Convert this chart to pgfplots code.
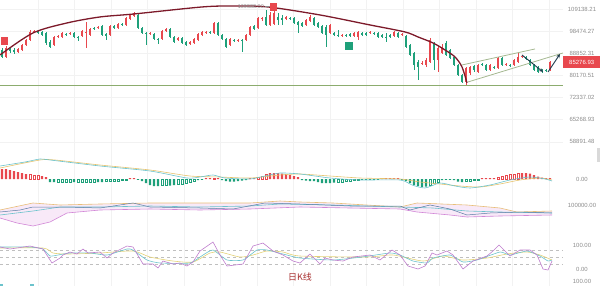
\documentclass[border=0pt]{standalone}
\usepackage{fontspec}
\setmainfont{Liberation Sans}
\newfontfamily\cjk{Noto Sans CJK SC}
\usepackage{pgfplots}
\usepackage{pgfplotstable}
\pgfplotsset{compat=1.18}
\usetikzlibrary{arrows.meta}

\definecolor{upc}{RGB}{232,72,78}
\definecolor{dnc}{RGB}{30,160,122}
\definecolor{arcc}{RGB}{125,26,42}
\definecolor{lvl}{RGB}{140,172,110}
\definecolor{chan}{RGB}{165,184,145}
\definecolor{arr}{RGB}{28,58,75}
\definecolor{lab}{RGB}{140,140,140}
\definecolor{gridc}{RGB}{242,242,242}
\definecolor{jc}{RGB}{190,125,205}
\definecolor{kc}{RGB}{108,195,204}
\definecolor{dc}{RGB}{228,210,120}
\definecolor{deac}{RGB}{230,195,110}
\definecolor{bollup}{RGB}{232,190,120}
\definecolor{bolllo}{RGB}{210,135,215}
\definecolor{bollfill}{RGB}{248,233,248}
\definecolor{pricec}{RGB}{90,125,165}
\definecolor{kline}{RGB}{168,48,48}

\pgfplotstableread{
i o h l c u
0 90216 91057 86926 87330 0
1 87330 91907 86926 91057 1
2 90636 91481 88968 89798 0
3 90216 91057 88555 89382 0
4 89382 91057 88968 90636 1
5 90216 92765 89798 92335 1
6 92335 94944 91907 94504 1
7 94504 98996 94066 98081 1
8 98081 98996 97626 98537 1
9 98537 98996 97174 97626 0
10 98081 98537 96276 96724 0
11 97626 98081 92335 93196 0
12 93630 94504 91057 91481 0
13 92335 96276 91907 95830 1
14 95830 96724 95386 96276 1
15 95830 98081 95386 97626 1
16 97174 97626 96276 96724 0
17 97174 98081 96724 97626 1
18 97626 98081 95386 95830 0
19 95830 96276 94066 95386 0
20 96276 98996 95830 98537 1
21 97626 102744 91057 98081 1
22 96724 99920 96276 99457 1
23 99920 100385 98996 99457 0
24 99920 100852 99457 100385 1
25 100852 101321 96276 96724 0
26 97174 97626 94504 96276 0
27 96724 101321 96276 100852 1
28 100852 101321 99457 99920 0
29 99920 102268 99457 101794 1
30 101794 102268 100852 101321 0
31 101321 105157 100852 104670 1
32 104185 106633 103703 106139 1
33 105647 107628 105157 107129 1
34 106139 107129 99457 99920 0
35 99920 100385 97174 97626 0
36 97626 98081 92335 97174 0
37 97174 98081 96724 97626 1
38 97174 97626 94504 94944 0
39 94944 95386 92765 94504 0
40 94944 98996 94504 98537 1
41 98537 99920 98081 99457 1
42 99457 99920 95386 95830 0
43 95830 96276 93196 93630 0
44 94504 95830 94066 95386 1
45 95386 95830 92765 93196 0
46 93630 94066 91907 92335 0
47 92765 94066 92335 93630 1
48 93196 95386 92765 94944 1
49 94504 97626 94066 97174 1
50 96724 98537 96276 98081 1
51 97626 98537 97174 98081 1
52 98081 98537 97174 97626 0
53 97626 102744 97174 102268 1
54 102268 102744 96276 96724 0
55 96724 97174 94504 94944 0
56 94944 95386 91057 91481 0
57 92335 95386 91907 94944 1
58 94504 94944 93630 94066 0
59 94066 94944 93630 94504 1
60 94504 94944 89382 94066 0
61 94504 97174 94066 96724 1
62 96724 100852 96276 100385 1
63 100852 101321 98996 99457 0
64 99920 105157 99457 104670 1
65 104185 105157 103222 104670 1
66 105157 108632 100852 101321 0
67 101321 107628 100852 106139 1
68 101794 109588 101321 107129 1
69 105157 107129 101321 103703 0
70 104670 106139 101321 103703 0
71 104185 105647 103703 105157 1
72 104670 105157 103703 104185 0
73 104670 105157 101794 102268 0
74 102744 103222 97626 101321 0
75 102268 102744 100385 100852 0
76 101321 104185 100852 103703 1
77 103222 106139 102744 105157 1
78 104670 105157 100852 101321 0
79 102268 102744 99920 100385 0
80 100852 101321 97174 97626 0
81 100385 101321 91481 96724 0
82 97626 101794 97174 101321 1
83 97626 98081 96276 96724 0
84 96724 98996 95830 96276 0
85 96276 97174 95830 96724 1
86 96724 97174 95830 96276 0
87 97174 97626 95830 96276 0
88 96276 98081 95830 97626 1
89 95830 98537 94504 98081 1
90 97626 98081 96276 96724 0
91 97626 98081 96276 96724 0
92 97626 98537 97174 98081 1
93 97626 98081 96724 97174 0
94 97626 98081 95386 95830 0
95 96724 97174 95386 95830 0
96 95830 97626 93630 95386 0
97 96724 97174 95386 95830 0
98 96276 98537 95830 98081 1
99 97626 98081 95386 95830 0
100 96724 97626 96276 97174 1
101 96276 96724 91057 91481 0
102 92335 92765 87737 88145 0
103 88968 89382 82214 84145 0
104 85326 86122 78483 83367 0
105 84537 85723 84145 84930 1
106 84145 86926 83367 86122 1
107 85326 95386 84930 94504 1
108 93196 93630 82214 86122 0
109 86122 91907 81454 91057 1
110 88968 92765 88555 91057 1
111 93196 94066 87737 88145 0
112 90216 90636 86523 86926 0
113 87330 87737 83755 84145 0
114 84145 84537 79955 80327 0
115 80327 80701 77397 77758 0
116 77758 83367 76682 82981 1
117 81076 83755 80327 83367 1
118 83755 84145 81454 82214 0
119 81454 84537 81076 84145 1
120 84537 84930 83755 84145 0
121 84145 84537 81833 82214 0
122 82214 84537 81833 84145 1
123 83367 83755 82596 82981 0
124 82981 87330 82596 86926 1
125 86926 87330 83755 84145 0
126 84145 84930 83755 84537 1
127 84145 84537 83367 83755 0
128 84145 86523 83755 86122 1
129 85326 88968 84930 87330 1
130 87330 88145 86926 87737 1
131 87330 87737 86122 86523 0
132 86122 86523 83755 84145 0
133 84145 84537 81833 82214 0
134 83367 83755 81076 81454 0
135 82214 82596 81076 81833 0
136 82214 82596 81454 81833 0
137 82214 85723 81833 85277 1
}\candles

\pgfplotsset{panel/.style={
  scale only axis, width=563bp, xmin=-0.5, xmax=140.25,
  axis line style={draw=none}, major tick length=0pt,
  scaled y ticks=false,
  xtick={9,18.125,27.25,36.375,45.5,54.625,63.75,72.875,82,91.125,100.25,109.375,118.5,127.625,136.75},
  xticklabels={}, xmajorgrids, grid style={gridc, line width=0.5bp},
  yticklabel pos=right,
  yticklabel style={anchor=center, xshift=19bp, font=\fontsize{6}{7}\selectfont, text=lab},
  anchor=north west}}

\begin{document}
\begin{tikzpicture}[x=1bp,y=1bp]
\useasboundingbox (0bp,0bp) rectangle (600bp,-286bp);

% ---------------- main price panel ----------------
\begin{axis}[panel, at={(0bp,0bp)}, height=148bp, ymode=log, ymin=57222, ymax=113796,
  ytick={58891.48,65268.93,72337.02,80170.51,88852.31,98474.27,109138.21},
  yticklabels={58891.48,65268.93,72337.02,80170.51,88852.31,98474.27,109138.21},
  ymajorgrids]
\pgfplotsinvokeforeach{0,...,137}{%
  \pgfplotstablegetelem{#1}{o}\of\candles\edef\co{\pgfplotsretval}%
  \pgfplotstablegetelem{#1}{h}\of\candles\edef\ch{\pgfplotsretval}%
  \pgfplotstablegetelem{#1}{l}\of\candles\edef\cl{\pgfplotsretval}%
  \pgfplotstablegetelem{#1}{c}\of\candles\edef\cc{\pgfplotsretval}%
  \pgfplotstablegetelem{#1}{u}\of\candles\edef\cu{\pgfplotsretval}%
  \ifnum\cu=1 \def\ccol{upc}\else\def\ccol{dnc}\fi
  \edef\tmp{\noexpand\addplot[\ccol, line width=0.6bp, forget plot] coordinates {(#1,\cl) (#1,\ch)};%
    \noexpand\addplot[\ccol, line width=2.9bp, forget plot] coordinates {(#1,\co) (#1,\cc)};}%
  \tmp
}
% support level
\addplot[lvl, line width=0.9bp] coordinates {(-0.5,76682) (140.25,76682)};
% channel
\addplot[chan, line width=0.8bp] coordinates {(115,84145) (133.25,90636)};
\addplot[chan, line width=0.8bp] coordinates {(116.5,77758) (140.25,88968)};
% arc
\addplot[arcc, line width=1.3bp, smooth, tension=0.5] coordinates {
(-0.5,88145) (7.75,97626) (16.25,102268) (24.5,105157) (33,106633) (50,110156)
(58,110669) (66.5,110156) (79.5,106139) (92,101321) (100.75,98081) (104,95830)
(107.75,93196) (110.75,90216) (113.25,87330) (115,83367) (116.25,77397)};
% arrows
\addplot[arr, line width=0.9bp, -{Stealth[length=4bp,width=3.5bp]}] coordinates {(130,88145) (135.25,81454)};
\addplot[arr, line width=0.9bp, -{Stealth[length=4bp,width=3.5bp]}] coordinates {(136.5,81454) (139.5,88555)};
% signal markers
\addplot[only marks, mark=square*, mark size=3.3bp, mark options={fill=upc, draw=upc}] coordinates {(0.5,94066) (67.75,110412)};
\addplot[only marks, mark=square*, mark size=3.3bp, mark options={fill=dnc, draw=dnc}] coordinates {(86.6,92120)};
\end{axis}
\node[anchor=east, text=lab, font=\fontsize{5.5}{6}\selectfont, inner sep=0pt] at (264bp,-6.5bp) {109588.00};
\draw[lab, line width=0.4bp] (264.5bp,-6.5bp) -- (269bp,-6.5bp);
\node[fill=upc, text=white, font=\fontsize{6}{7}\selectfont, anchor=west, minimum width=37bp, minimum height=11.5bp, inner sep=0pt] at (563bp,-62bp) {85276.93};
\fill[black!15] (597bp,-148bp) rectangle (600bp,-162bp);

% ---------------- MACD panel ----------------
\begin{axis}[panel, at={(0bp,-148bp)}, height=44bp, ymin=-1300, ymax=3100,
  ytick={0}, yticklabels={0.00}]
\addplot[ybar, bar width=2.4bp, bar shift=0pt, fill=upc, draw=none] coordinates {
(0,1000)(1,1000)(2,900)(3,800)(4,700)(5,600)(6,500)(10,300)(11,200)(32,80)(33,80)(51,80)(52,100)(54,80)(62,80)(63,100)(67,600)(68,600)(69,600)(70,550)(71,500)(72,400)(73,300)(74,200)(95,80)(96,80)(97,80)(98,80)(99,80)(120,80)(121,80)(122,80)(123,80)(130,600)(131,600)(132,550)(133,400)(134,250)(135,150)(136,100)(137,80)};
\addplot[ybar, bar width=2.4bp, bar shift=0pt, fill=white, draw=upc, line width=0.5bp] coordinates {
(7,500)(8,400)(9,400)(53,100)(64,200)(65,300)(66,500)(124,150)(125,250)(126,350)(127,450)(128,500)(129,600)};
\addplot[ybar, bar width=2.4bp, bar shift=0pt, fill=dnc, draw=none] coordinates {
(12,-300)(13,-300)(18,-300)(24,-300)(25,-300)(34,-80)(35,-200)(36,-400)(37,-600)(38,-700)(39,-700)(42,-650)(43,-600)(49,-100)(50,-80)(55,-100)(56,-200)(57,-250)(58,-250)(59,-200)(60,-150)(61,-100)(75,-100)(76,-150)(77,-200)(78,-200)(79,-300)(80,-400)(81,-400)(82,-400)(83,-350)(90,-80)(91,-80)(92,-80)(93,-80)(94,-80)(100,-80)(101,-200)(102,-400)(103,-600)(104,-700)(105,-800)(106,-750)(110,-100)(111,-80)(112,-80)(113,-100)(114,-250)(115,-300)};
\addplot[ybar, bar width=2.4bp, bar shift=0pt, fill=white, draw=dnc, line width=0.5bp] coordinates {
(14,-300)(15,-300)(16,-300)(17,-300)(19,-300)(20,-300)(21,-300)(22,-300)(23,-300)(26,-200)(27,-200)(28,-200)(29,-200)(30,-150)(31,-100)(40,-600)(41,-600)(44,-550)(45,-500)(46,-400)(47,-300)(48,-200)(84,-350)(85,-300)(86,-250)(87,-200)(88,-150)(89,-100)(107,-600)(108,-450)(109,-300)(116,-250)(117,-200)(118,-100)(119,-80)};
\addplot[deac, line width=0.6bp, smooth, tension=0.4] coordinates {
(-0.5,1100)(9.5,1900)(13.25,1900)(24.5,1400)(37,900)(47,300)(54.5,200)(62,100)(69.5,400)(74.5,500)(82,300)(89.5,100)(99.5,0)(104.5,-300)(109.5,-500)(114.5,-700)(119.5,-800)(124.5,-500)(129.5,-100)(134.5,100)(137.5,-100)};
\addplot[kc, line width=0.6bp, smooth, tension=0.4] coordinates {
(-0.5,1300)(5.75,1700)(9.5,2000)(12,1900)(24.5,1300)(37,800)(46.25,100)(49.5,200)(52.75,400)(55.75,100)(62,0)(65.75,300)(69.5,600)(74.5,500)(82,100)(89.5,-100)(99.5,-100)(102.5,-600)(105.75,-900)(109.5,-400)(113.25,-700)(117,-900)(122,-600)(127,-100)(132,200)(135.75,0)(137.5,-200)};
\end{axis}

% ---------------- band panel ----------------
\begin{axis}[panel, at={(0bp,-192bp)}, height=40bp, ymin=46000, ymax=126000,
  ytick={100000}, yticklabels={100000.00}]
\addplot[fill=bollfill, draw=none] coordinates {
(-0.5,90000)(7.75,104000)(14.5,100000)(24.5,102000)(37,104000)(49.5,104000)(62,104000)(69.5,108000)(74.5,106000)(82.75,104000)(99.5,96000)(103.75,104000)(116.25,100000)(124.5,94000)(128.75,86000)(137.5,88000)
(137.5,80000)(124.5,78000)(116.25,76000)(112,80000)(103.75,86000)(99.5,92000)(87,94000)(74.5,96000)(62,92000)(49.5,90000)(37,92000)(24.5,90000)(16.25,84000)(12,66000)(7.75,58000)(3.75,64000)(-0.5,74000)};
\addplot[bollup, line width=0.6bp] coordinates {
(-0.5,90000)(7.75,104000)(14.5,100000)(24.5,102000)(37,104000)(49.5,104000)(62,104000)(69.5,108000)(74.5,106000)(82.75,104000)(99.5,96000)(103.75,104000)(116.25,100000)(124.5,94000)(128.75,86000)(137.5,88000)};
\addplot[bolllo, line width=0.6bp] coordinates {
(-0.5,74000)(3.75,64000)(7.75,58000)(12,66000)(16.25,84000)(24.5,90000)(37,92000)(49.5,90000)(62,92000)(74.5,96000)(87,94000)(99.5,92000)(103.75,86000)(112,80000)(116.25,76000)(124.5,78000)(137.5,80000)};
\addplot[kc, line width=0.6bp] coordinates {
(-0.5,80000)(7.75,88000)(14.5,96000)(24.5,96000)(37,98000)(49.5,96000)(62,98000)(69.5,102000)(82.75,100000)(99.5,96000)(107.75,94000)(116.25,88000)(124.5,86000)(137.5,84000)};
\addplot[pricec, line width=0.5bp] coordinates {
(-0.5,86000)(4.5,90000)(7.75,96000)(16.25,96000)(24.5,94000)(32.75,104000)(37,96000)(49.5,94000)(57.75,92000)(65.75,104000)(74.5,102000)(87,98000)(99.5,98000)(102,90000)(107,100000)(112,92000)(116.25,80000)(122,84000)(129.5,86000)(137.5,84000)};
\end{axis}

% ---------------- KDJ panel ----------------
\begin{axis}[panel, at={(0bp,-232bp)}, height=54bp, ymin=-70.8, ymax=154.2,
  ytick={-50,0,100}, yticklabels={100.00,0.00,100.00}]
\addplot[black!25, dashed, line width=0.5bp] coordinates {(-0.5,80) (140.25,80)};
\addplot[black!25, dashed, line width=0.5bp] coordinates {(-0.5,50) (140.25,50)};
\addplot[black!25, dashed, line width=0.5bp] coordinates {(-0.5,20) (140.25,20)};
\addplot[dc, line width=0.6bp, smooth, tension=0.4] coordinates {
(-0.5,87.5)(10.25,87.5)(12.75,66.7)(16.25,62.5)(24.5,66.7)(32.75,75)(37,50)(42.75,33.3)(47.75,29.2)(52,66.7)(54.5,70.8)(59.5,50)(62.75,58.3)(66.25,75)(70.25,70.8)(74.5,54.2)(91.25,50)(97.75,58.3)(105.25,33.3)(110.25,54.2)(115.25,37.5)(121.25,45.8)(126.25,62.5)(131.25,70.8)(134.5,58.3)(137.5,37.5)};
\addplot[kc, line width=0.6bp, smooth, tension=0.3] coordinates {
(-0.5,91.7)(7,91.7)(10.25,83.3)(12,54.2)(14,58.3)(17,66.7)(22,66.7)(26.25,58.3)(31.25,83.3)(32.75,79.2)(36.25,37.5)(39.5,25)(47,25)(50.25,58.3)(52.75,79.2)(56.25,37.5)(60.25,37.5)(63.75,79.2)(66.25,79.2)(70.25,62.5)(74.5,45.8)(82.75,37.5)(90,50)(97,66.7)(99.5,58.3)(102.75,33.3)(106.25,25)(107.75,45.8)(112,58.3)(115.25,29.2)(118.75,37.5)(124.5,70.8)(127,58.3)(131.25,75)(134.5,54.2)(136.5,33.3)(137.5,37.5)};
\addplot[jc, line width=0.6bp] coordinates {
(-0.5,91.7)(2,83.3)(7,95.8)(10.25,83.3)(12.5,25)(14.5,45.8)(15.25,58.3)(17,70.8)(18.75,62.5)(20.25,83.3)(21.5,66.7)(24.5,70.8)(26.25,45.8)(27.75,66.7)(31.25,95.8)(32.75,91.7)(35.25,20.8)(37.75,20.8)(39,4.2)(40.25,33.3)(42.75,20.8)(44.5,25)(46.25,12.5)(47.75,29.2)(49.5,75)(52.75,112.5)(54.5,58.3)(56.25,12.5)(60.25,20.8)(62.75,95.8)(65.25,108.3)(67.75,75)(70.25,58.3)(72.75,33.3)(74.5,25)(77,62.5)(79.5,20.8)(80.75,45.8)(82.75,37.5)(85.25,33.3)(87.75,50)(92,58.3)(94.5,37.5)(97.5,79.2)(99.5,58.3)(101.5,12.5)(104,0)(105.75,12.5)(107.5,66.7)(108.75,58.3)(111.25,75)(112.75,58.3)(115.25,0)(117.75,33.3)(121.25,54.2)(122.75,75)(124.25,100)(127,54.2)(129.5,79.2)(132,79.2)(133.75,58.3)(135.25,0)(136.5,-4.2)(137.5,33.3)};
\end{axis}
\node[text=kline, font=\cjk\fontsize{9}{10}\selectfont, inner sep=0pt] at (300bp,-277bp) {日K线};
\fill[kc] (0bp,-284bp) rectangle (3bp,-286bp);
\fill[kc] (30bp,-284bp) rectangle (34bp,-286bp);
\end{tikzpicture}
\end{document}
